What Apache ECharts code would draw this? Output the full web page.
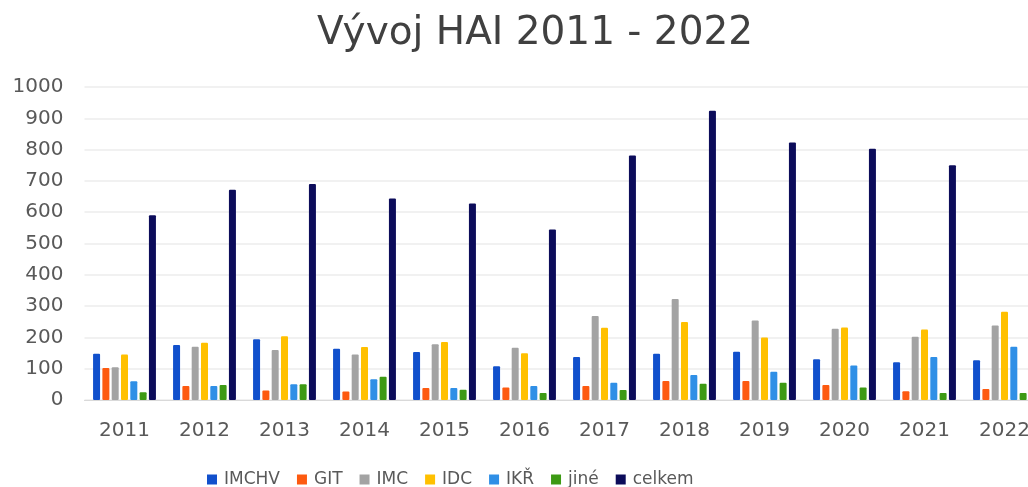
<!DOCTYPE html>
<html>
<head>
<meta charset="utf-8">
<title>Vývoj HAI 2011 - 2022</title>
<script src="https://cdn.jsdelivr.net/npm/echarts@6/dist/echarts.min.js"></script>
<style>
    html, body { margin: 0; padding: 0; background: #fff; }
    #chart { width: 1028px; height: 487px; }
</style>
</head>
<body>
<div id="chart"></div>
<script>
// Data
var years = ['2011', '2012', '2013', '2014', '2015', '2016', '2017', '2018', '2019', '2020', '2021', '2022'];
var imchv  = [148, 176, 194, 164, 153, 108, 137, 148, 154, 130, 121, 127];
var git    = [102, 45, 30, 27, 38, 40, 45, 61, 61, 48, 28, 35];
var imc    = [105, 170, 160, 145, 178, 167, 268, 323, 254, 228, 202, 238];
var idc    = [145, 183, 204, 169, 185, 149, 231, 249, 200, 232, 225, 282];
var ikr    = [60, 45, 50, 66, 38, 45, 55, 80, 90, 110, 137, 170];
var jine   = [25, 48, 50, 74, 33, 22, 32, 52, 55, 40, 22, 22];
var celkem = [590, 672, 690, 644, 628, 545, 781, 924, 823, 803, 750, 875];
var yTicks = [0, 1000, 100];

(function() {
    'use strict';

    var font = '"DejaVu Sans", sans-serif';

    // Series colours
    var colors = {
        'IMCHV': '#1150cc',
        'GIT': '#fd5a10',
        'IMC': '#a3a3a3',
        'IDC': '#ffc000',
        'IKŘ': '#2f8fe6',
        'jiné': '#3d9a14',
        'celkem': '#0c0c5a'
    };

    var seriesDefs = [
        { name: 'IMCHV', data: imchv },
        { name: 'GIT', data: git },
        { name: 'IMC', data: imc },
        { name: 'IDC', data: idc },
        { name: 'IKŘ', data: ikr },
        { name: 'jiné', data: jine },
        { name: 'celkem', data: celkem }
    ];

    var chart = echarts.init(document.getElementById('chart'));

    var option = {
        animation: false,
        textStyle: { fontFamily: font },
        title: {
            text: 'Vývoj HAI 2011 - 2022',
            left: 530,
            textAlign: 'center',
            top: 9,
            textStyle: {
                fontFamily: font,
                fontSize: 39,
                fontWeight: 'normal',
                color: '#404040'
            }
        },
        legend: {
            left: 202,
            top: 466,
            itemWidth: 10,
            itemHeight: 10,
            itemGap: 17,
            icon: 'rect',
            textStyle: { fontFamily: font, fontSize: 17, color: '#595959', padding: [0, 0, 0, 2] },
            data: seriesDefs.map(function(s) { return s.name; })
        },
        grid: {
            left: 84.5,
            width: 960,
            top: 87,
            bottom: 87,
            outerBoundsMode: 'none',
            containLabel: false
        },
        xAxis: {
            type: 'category',
            data: years,
            axisTick: { show: false },
            axisLine: { lineStyle: { color: '#d9d9d9', width: 1 } },
            axisLabel: { fontFamily: font, fontSize: 20, color: '#595959', margin: 21 }
        },
        yAxis: {
            type: 'value',
            min: yTicks[0],
            max: yTicks[1],
            interval: yTicks[2],
            axisLine: { show: false },
            axisTick: { show: false },
            splitLine: { lineStyle: { color: '#ececec', width: 1.5 } },
            axisLabel: {
                fontFamily: font,
                fontSize: 20,
                color: '#595959',
                margin: 21,
                formatter: function(v) { return String(v); }
            }
        },
        series: seriesDefs.map(function(s) {
            return {
                name: s.name,
                type: 'bar',
                data: s.data,
                barWidth: 7,
                barGap: '33%',
                itemStyle: { color: colors[s.name], borderRadius: 1 }
            };
        })
    };

    chart.setOption(option);

    window.addEventListener('resize', function() {
        chart.resize();
    });
})();
</script>
</body>
</html>
